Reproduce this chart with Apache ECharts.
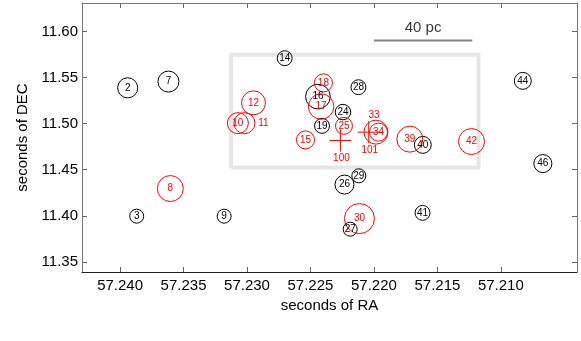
<!DOCTYPE html>
<html>
<head>
<meta charset="utf-8">
<script src="https://cdn.jsdelivr.net/npm/echarts@6/dist/echarts.min.js"></script>
<style>
html, body { margin: 0; padding: 0; background: #fff; }
#main { width: 581px; height: 341px; }
</style>
</head>
<body>
<div id="main"></div>
<script>
// black sources: id, RA (s), DEC (s), radius (s of DEC)
const blackIds = ['2', '7', '14', '3', '9', '16', '19', '24', '28', '40', '44', '46', '26', '29', '41', '27']
const blackRA = [57.23940, 57.23619, 57.22703, 57.23869, 57.23180, 57.22441, 57.22409, 57.22244,
  57.22122, 57.21615, 57.20827, 57.20669, 57.22232, 57.22119, 57.21617, 57.22187]
const blackDEC = [11.5389, 11.5457, 11.5711, 11.3996, 11.3996, 11.5294, 11.4976, 11.5126,
  11.5396, 11.4770, 11.5465, 11.4567, 11.4339, 11.4434, 11.4032, 11.3855]
const blackRadius = [0.0109, 0.0114, 0.0081, 0.0076, 0.0076, 0.0134, 0.0081, 0.0084,
  0.0081, 0.0092, 0.0092, 0.0098, 0.0103, 0.0076, 0.0081, 0.0076]

// red sources
const redIds = ['12', '10', '11', '18', '17', '15', '25', '33', '34', '39', '42', '8', '30']
const redRA = [57.22949, 57.23072, 57.23020, 57.22398, 57.22416, 57.22539, 57.22236, 57.21984,
  57.21964, 57.21717, 57.21231, 57.23604, 57.22114]
const redDEC = [11.5226, 11.5006, 11.5006, 11.5443, 11.5186, 11.4824, 11.4976, 11.4908,
  11.4908, 11.4832, 11.4806, 11.4296, 11.3970]
const redRadius = [0.0130, 0.0114, 0.0114, 0.0098, 0.0138, 0.0098, 0.0092, 0.0130,
  0.0098, 0.0141, 0.0141, 0.0141, 0.0163]

// crosses
const crossIds = ['100', '101']
const crossRA = [57.22264, 57.22041]
const crossDEC = [11.4817, 11.4908]

// selected region
const boxRA = [57.23125, 57.21176]
const boxDEC = [11.4524, 11.5747]

// 40 pc scale bar
const scaleBarRA = [57.22001, 57.21225]
const scaleBarDEC = 11.5902

const raTicks = [57.240, 57.235, 57.230, 57.225, 57.220, 57.215, 57.210]
const decTicks = [11.35, 11.40, 11.45, 11.50, 11.55, 11.60]

const raMin = 57.204
const raMax = 57.243
const decMin = 11.339
const decMax = 11.631

const gridTop = 3
const gridBottom = 69
const pxPerDec = (341 - gridTop - gridBottom) / (decMax - decMin)

// labels that sit outside their ring
const labelShift = { '11': [19, 0], '33': [-2, -17] }

const font = 'Liberation Sans'

function ringData(ids, ra, dec, rad) {
  return ids.map(function(id, i) {
    const item = { value: [ra[i], dec[i], rad[i]], name: id }
    if (labelShift[id]) item.label = { offset: labelShift[id] }
    return item
  })
}

function ringSeries(ids, ra, dec, rad, color) {
  return {
    type: 'scatter',
    data: ringData(ids, ra, dec, rad),
    symbol: 'circle',
    symbolSize: function(v) { return 2 * v[2] * pxPerDec },
    itemStyle: { color: 'rgba(0,0,0,0)', borderColor: color, borderWidth: 1, opacity: 1 },
    label: {
      show: true,
      position: 'inside',
      formatter: '{b}',
      color: color,
      fontSize: 10,
      fontFamily: font
    },
    z: 3
  }
}

function xAx(pos) {
  const bottom = pos === 'bottom'
  return {
    type: 'value',
    position: pos,
    inverse: true,
    min: raMin,
    max: raMax,
    name: bottom ? 'seconds of RA' : '',
    nameLocation: 'middle',
    nameGap: 21,
    nameTextStyle: { fontSize: 15, color: '#000', fontFamily: font },
    axisLine: { onZero: false, lineStyle: { color: bottom ? '#222' : '#777', width: 1 } },
    axisTick: { inside: true, length: 5, customValues: raTicks, lineStyle: { color: '#666' } },
    axisLabel: {
      show: bottom,
      customValues: raTicks,
      formatter: function(v) { return v.toFixed(3) },
      fontSize: 15,
      color: '#000',
      fontFamily: font,
      margin: 6
    },
    splitLine: { show: false }
  }
}

function yAx(pos) {
  const left = pos === 'left'
  return {
    type: 'value',
    position: pos,
    min: decMin,
    max: decMax,
    name: left ? 'seconds of DEC' : '',
    nameLocation: 'middle',
    nameGap: 42,
    nameTextStyle: { fontSize: 15, color: '#000', fontFamily: font },
    axisLine: { onZero: false, lineStyle: { color: '#777', width: 1 } },
    axisTick: { inside: true, length: 5, customValues: decTicks, lineStyle: { color: '#666' } },
    axisLabel: {
      show: left,
      customValues: decTicks,
      formatter: function(v) { return v.toFixed(2) },
      fontSize: 15,
      color: '#000',
      fontFamily: font,
      margin: 4
    },
    splitLine: { show: false }
  }
}

const option = {
  animation: false,
  grid: { left: 82, right: 4, top: gridTop, bottom: gridBottom },
  xAxis: [xAx('bottom'), xAx('top')],
  yAxis: [yAx('left'), yAx('right')],
  series: [
    {
      // region box
      type: 'line',
      data: [
        [boxRA[0], boxDEC[0]], [boxRA[1], boxDEC[0]], [boxRA[1], boxDEC[1]],
        [boxRA[0], boxDEC[1]], [boxRA[0], boxDEC[0]]
      ],
      symbol: 'none',
      lineStyle: { color: '#e6e6e6', width: 4, join: 'round' },
      z: 1
    },
    {
      // scale bar
      type: 'line',
      data: [[scaleBarRA[0], scaleBarDEC], [scaleBarRA[1], scaleBarDEC]],
      symbol: 'none',
      lineStyle: { color: '#808080', width: 2 },
      z: 1
    },
    {
      type: 'scatter',
      data: [[(scaleBarRA[0] + scaleBarRA[1]) / 2, scaleBarDEC]],
      symbolSize: 0,
      label: {
        show: true,
        position: 'top',
        distance: 5,
        formatter: '40 pc',
        fontSize: 15,
        color: '#000',
        fontFamily: font
      }
    },
    ringSeries(blackIds, blackRA, blackDEC, blackRadius, '#000'),
    ringSeries(redIds, redRA, redDEC, redRadius, '#ff0000'),
    {
      type: 'scatter',
      data: crossIds.map(function(id, i) { return { value: [crossRA[i], crossDEC[i]], name: id } }),
      symbol: 'path://M0,10L20,10M10,0L10,20',
      symbolSize: 22,
      itemStyle: { color: 'rgba(0,0,0,0)', borderColor: '#ff0000', borderWidth: 1, opacity: 1 },
      label: {
        show: true,
        position: 'inside',
        offset: [1, 18],
        formatter: '{b}',
        color: '#ff0000',
        fontSize: 10,
        fontFamily: font
      },
      z: 4
    }
  ]
}

const myChart = echarts.init(document.getElementById('main'))
myChart.setOption(option)
</script>
</body>
</html>
